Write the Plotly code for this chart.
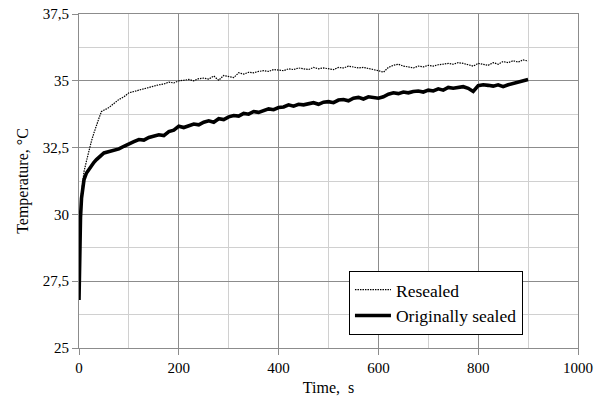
import plotly.graph_objects as go

t_early = [0, 1, 2, 3, 5, 7, 10, 15, 20, 25, 30, 35, 40, 45, 50, 60, 70, 80, 90, 100]
t_late = list(range(110, 901, 10))
time_s = t_early + t_late

resealed_early = [27.2, 28.5, 29.5, 30.0, 30.8, 31.2, 31.6, 32.0, 32.4, 32.75, 33.05, 33.35, 33.6, 33.85, 33.9, 34.0, 34.15, 34.3, 34.4, 34.55]
resealed_late = [34.6, 34.65, 34.72, 34.75, 34.8, 34.85, 34.88, 34.95, 34.92, 35.0,
                 35.02, 35.05, 35.0, 35.08, 35.1, 35.06, 35.18, 35.02, 35.2, 35.15,
                 35.12, 35.3, 35.25, 35.32, 35.3, 35.35, 35.38, 35.35, 35.42, 35.4,
                 35.38, 35.45, 35.42, 35.48, 35.45, 35.42, 35.5, 35.45, 35.48, 35.45,
                 35.42, 35.5, 35.48, 35.55, 35.52, 35.48, 35.5, 35.45, 35.42, 35.38,
                 35.32, 35.5, 35.58, 35.62, 35.55, 35.52, 35.48, 35.55, 35.52, 35.58,
                 35.55, 35.6, 35.62, 35.65, 35.62, 35.68, 35.65, 35.6, 35.55, 35.65,
                 35.62, 35.58, 35.68, 35.62, 35.72, 35.68, 35.75, 35.7, 35.78, 35.74]
resealed = resealed_early + resealed_late

orig_early = [26.8, 28.0, 29.2, 29.9, 30.6, 31.0, 31.3, 31.55, 31.7, 31.85, 31.95, 32.05, 32.15, 32.22, 32.3, 32.35, 32.4, 32.45, 32.55, 32.65]
orig_late = [32.72, 32.8, 32.78, 32.88, 32.92, 32.98, 32.95, 33.1, 33.15, 33.3,
             33.25, 33.3, 33.38, 33.35, 33.45, 33.5, 33.45, 33.58, 33.55, 33.65,
             33.7, 33.68, 33.78, 33.75, 33.85, 33.82, 33.9, 33.95, 33.92, 34.0,
             34.02, 34.1, 34.05, 34.12, 34.1, 34.15, 34.18, 34.12, 34.2, 34.22,
             34.18, 34.28, 34.3, 34.25, 34.35, 34.38, 34.32, 34.4, 34.38, 34.35,
             34.4, 34.5, 34.55, 34.52, 34.58, 34.55, 34.6, 34.62, 34.58, 34.65,
             34.62, 34.7, 34.65, 34.75, 34.72, 34.75, 34.78, 34.72, 34.6, 34.82,
             34.85, 34.83, 34.8, 34.85, 34.78, 34.85, 34.9, 34.95, 35.0, 35.05]
orig = orig_early + orig_late

y_tickvals = [25, 27.5, 30, 32.5, 35, 37.5]
y_ticktext = ["25", "27,5", "30", "32,5", "35", "37,5"]
x_tickvals = [0, 200, 400, 600, 800, 1000]

font_family = "Liberation Serif, Times New Roman, serif"

fig = go.Figure()
fig.add_trace(go.Scatter(x=time_s, y=resealed, mode="lines", name="Resealed",
                         line=dict(color="black", width=1.2, dash="1.5px,1px")))
fig.add_trace(go.Scatter(x=time_s, y=orig, mode="lines", name="Originally sealed",
                         line=dict(color="black", width=3.6)))

# the page body keeps its default 8px margin, so the figure is sized/offset to compensate
fig.update_layout(
    width=599, height=395,
    margin=dict(l=71, r=29, t=6, b=55, autoexpand=False),
    paper_bgcolor="white", plot_bgcolor="white",
    font=dict(family=font_family, size=15, color="black"),
    showlegend=True,
    legend=dict(x=0.541, y=0.231, xanchor="left", yanchor="top",
                bgcolor="white", bordercolor="black", borderwidth=1,
                font=dict(family=font_family, size=17.5), tracegroupgap=0,
                itemwidth=36),
    xaxis=dict(range=[0, 1000], tickvals=x_tickvals, showgrid=True,
               gridcolor="#8c8c8c", gridwidth=1, automargin=False,
               minor=dict(dtick=100, showgrid=True, gridcolor="#d0d0d0", gridwidth=1),
               showline=True, linecolor="#8c8c8c", mirror=True,
               ticks="outside", ticklen=6, tickcolor="#8c8c8c",
               zeroline=False,
               title=dict(text="Time,  s", font=dict(size=16), standoff=6),
               tickfont=dict(size=15)),
    yaxis=dict(range=[25, 37.5], tickvals=y_tickvals, ticktext=y_ticktext,
               showgrid=True, gridcolor="#8c8c8c", gridwidth=1, automargin=False,
               minor=dict(dtick=1.25, tick0=25, showgrid=True, gridcolor="#d0d0d0", gridwidth=1),
               showline=True, linecolor="#8c8c8c", mirror=True,
               ticks="outside", ticklen=6, tickcolor="#8c8c8c",
               zeroline=False, ticklabeloverflow="allow",
               title=dict(text="Temperature, °C", font=dict(size=16), standoff=10),
               tickfont=dict(size=15)),
)

fig.write_html("out.html", config={"displayModeBar": False},
               post_script="document.querySelectorAll('.main-svg').forEach(function(s){s.style.overflow='visible';});")
